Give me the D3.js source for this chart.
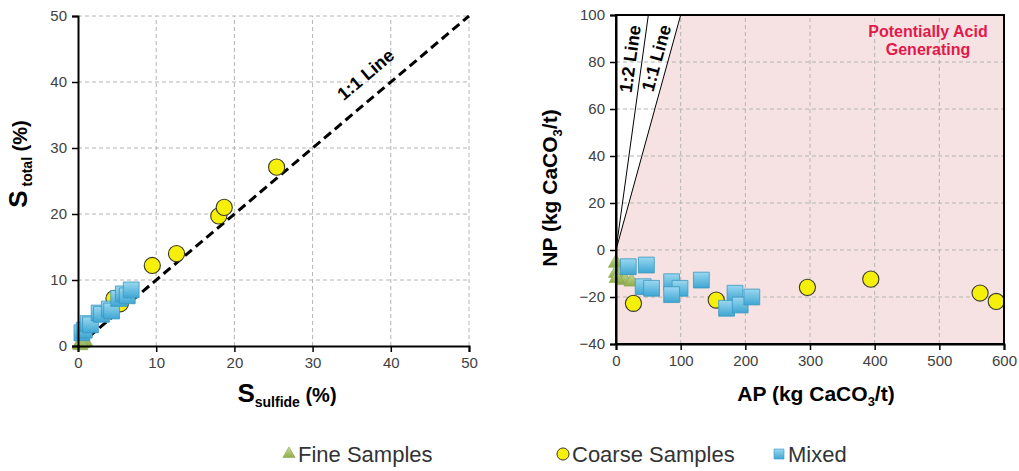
<!DOCTYPE html>
<html>
<head>
<meta charset="utf-8">
<script src="https://cdn.jsdelivr.net/npm/d3@7"></script>
<style>
	body { margin: 0; background: #fff; }
	svg text { font-family: "Liberation Sans", Arial, sans-serif; }
</style>
</head>
<body>
<svg id="chart" width="1019" height="471"></svg>
<script>
'use strict';

// left panel: S_sulfide (%) vs S_total (%)
const fineS = [[0.2, 0.3], [0.5, 0.4], [0.7, 0.6], [0.3, 0.1], [0.9, 0.7], [0.4, 0.5]];
const coarseS = [[4.6, 7.2], [5.4, 6.4], [9.5, 12.2], [12.6, 14.0], [18.0, 19.7], [18.7, 21.0], [25.4, 27.1]];
const mixedS = [[0.5, 2.0], [0.8, 2.4], [1.3, 3.4], [1.6, 3.2], [2.7, 5.0], [3.0, 4.8],
	[4.0, 5.6], [4.3, 5.3], [5.2, 7.2], [5.8, 7.9], [6.3, 7.6], [6.8, 8.5]];

// right panel: AP vs NP (kg CaCO3/t)
const fineNP = [[0, -5.5], [0, -9.8], [6, -11.3], [14, -12.8], [24, -13.5], [1, -12]];
const coarseNP = [[27, -22.7], [155, -21.3], [296, -15.9], [394, -12.4], [563, -18.3], [588, -21.9]];
const mixedNP = [[19, -7.1], [47, -6.4], [42, -15.6], [55, -16.3], [86, -13.5], [99, -16.3],
	[86, -19], [132, -12.8], [184, -18.4], [171, -24.8], [192, -23.4], [210, -20]];

const ticksS = [0, 10, 20, 30, 40, 50];
const ticksAP = [0, 100, 200, 300, 400, 500, 600];
const ticksNP = [-40, -20, 0, 20, 40, 60, 80, 100];
const legendItems = ['Fine Samples', 'Coarse Samples', 'Mixed'];

const svg = d3.select('#chart');

/* gradients for the markers */
const defs = svg.append('defs');
function gradient(id, c1, c2){
	let g = defs.append('linearGradient').attr('id', id)
		.attr('x1', 0).attr('y1', 0).attr('x2', 0).attr('y2', 1);
	g.append('stop').attr('offset', '0%').attr('stop-color', c1);
	g.append('stop').attr('offset', '100%').attr('stop-color', c2);
}
gradient('gSq', '#9ad8f0', '#3ea6d3');
gradient('gTri', '#c8da9c', '#8fae4c');

const styles = {
	fine: { type: d3.symbolTriangle, size: 100, fill: 'url(#gTri)', stroke: '#8aa64a', sw: 0.6 },
	coarse: { type: d3.symbolCircle, size: 205, fill: '#f6ef0a', stroke: '#3a3a2a', sw: 1.1 },
	mixed: { type: d3.symbolSquare, size: 250, fill: 'url(#gSq)', stroke: '#3a97c2', sw: 0.8 }
};

function drawPoints(g, data, x, y, st){
	g.append('g').selectAll('path')
		.data(data)
		.join('path')
			.attr('transform', d => `translate(${x(d[0])},${y(d[1])})`)
			.attr('d', d3.symbol().type(st.type).size(st.size))
			.attr('fill', st.fill)
			.attr('stroke', st.stroke)
			.attr('stroke-width', st.sw);
}

function grid(g, x, y, xt, yt){
	g.append('g').selectAll('line.v')
		.data(xt.slice(1))
		.join('line')
			.attr('x1', d => x(d)).attr('x2', d => x(d))
			.attr('y1', y.range()[0]).attr('y2', y.range()[1])
			.attr('stroke', '#b4b4b4').attr('stroke-dasharray', '4,3');
	g.append('g').selectAll('line.h')
		.data(yt.slice(1))
		.join('line')
			.attr('y1', d => y(d)).attr('y2', d => y(d))
			.attr('x1', x.range()[0]).attr('x2', x.range()[1])
			.attr('stroke', '#b4b4b4').attr('stroke-dasharray', '4,3');
}

function axes(g, x, y, xt, yt){
	let ax = g.append('g')
		.attr('transform', `translate(0,${y.range()[0]})`)
		.call(d3.axisBottom(x).tickValues(xt).tickSize(6).tickPadding(5));
	let ay = g.append('g')
		.attr('transform', `translate(${x.range()[0]},0)`)
		.call(d3.axisLeft(y).tickValues(yt).tickSize(6).tickPadding(5));
	[ax, ay].forEach(a => {
		a.select('.domain').attr('stroke', '#000').attr('stroke-width', 2);
		a.selectAll('.tick line').attr('stroke', '#000').attr('stroke-width', 1.5);
		a.selectAll('.tick text')
			.attr('fill', '#404040')
			.style('font-size', '15px')
			.style('font-family', '"Liberation Sans", Arial, sans-serif');
	});
}

/** left panel */
const xL = d3.scaleLinear().domain([0, 50]).range([78, 469]);
const yL = d3.scaleLinear().domain([0, 50]).range([346, 16]);
const gL = svg.append('g');
grid(gL, xL, yL, ticksS, ticksS);

gL.append('line')
	.attr('x1', xL(0)).attr('y1', yL(0))
	.attr('x2', xL(50)).attr('y2', yL(50))
	.attr('stroke', '#000').attr('stroke-width', 3)
	.attr('stroke-dasharray', '9,5');

gL.append('text')
	.attr('transform', `translate(${xL(37.3)},${yL(40.4)}) rotate(-40.2)`)
	.attr('text-anchor', 'middle')
	.style('font-size', '18px').style('font-weight', 'bold')
	.text('1:1 Line');

drawPoints(gL, coarseS, xL, yL, styles.coarse);
drawPoints(gL, fineS, xL, yL, styles.fine);
drawPoints(gL, mixedS, xL, yL, styles.mixed);
axes(gL, xL, yL, ticksS, ticksS);

// axis titles with subscripts
let tx = gL.append('text')
	.attr('x', 287).attr('y', 402)
	.attr('text-anchor', 'middle')
	.style('font-weight', 'bold');
tx.append('tspan').style('font-size', '26px').text('S');
tx.append('tspan').style('font-size', '14px').attr('dy', 5).text('sulfide');
tx.append('tspan').style('font-size', '20px').attr('dy', -5).text(' (%)');

let ty = gL.append('text')
	.attr('transform', 'translate(27,164) rotate(-90)')
	.attr('text-anchor', 'middle')
	.style('font-weight', 'bold');
ty.append('tspan').style('font-size', '26px').text('S');
ty.append('tspan').style('font-size', '14px').attr('dy', 5).text(' total');
ty.append('tspan').style('font-size', '20px').attr('dy', -5).text(' (%)');

/** right panel */
const xR = d3.scaleLinear().domain([0, 600]).range([616, 1004]);
const yR = d3.scaleLinear().domain([-40, 100]).range([344, 15]);
const gR = svg.append('g');

// region where NP < AP
const acidArea = [[0, -40], [0, 0], [100, 100], [600, 100], [600, -40]];
gR.append('path')
	.attr('d', d3.line().x(d => xR(d[0])).y(d => yR(d[1]))(acidArea) + 'Z')
	.attr('fill', '#f6e2e2');

grid(gR, xR, yR, ticksAP, ticksNP);

// ratio lines NP = k * AP
const ratioLines = [{ k: 1, label: '1:1 Line' }, { k: 2, label: '1:2 Line' }];
ratioLines.forEach(r => {
	gR.append('line')
		.attr('x1', xR(0)).attr('y1', yR(0))
		.attr('x2', xR(100 / r.k)).attr('y2', yR(100))
		.attr('stroke', '#000').attr('stroke-width', 1);
	let ang = Math.atan2(yR(0) - yR(100), xR(100 / r.k) - xR(0)) * 180 / Math.PI;
	gR.append('text')
		.attr('transform', `translate(${xR(81 / r.k) - 6},${yR(81)}) rotate(${-ang})`)
		.attr('text-anchor', 'middle')
		.style('font-size', '18px').style('font-weight', 'bold')
		.text(r.label);
});

let red = gR.append('text')
	.attr('text-anchor', 'middle')
	.attr('fill', '#e3184b')
	.style('font-size', '16px').style('font-weight', 'bold');
red.append('tspan').attr('x', 928).attr('y', 37).text('Potentially Acid');
red.append('tspan').attr('x', 928).attr('y', 55).text('Generating');

drawPoints(gR, coarseNP, xR, yR, styles.coarse);
drawPoints(gR, fineNP, xR, yR, styles.fine);
drawPoints(gR, mixedNP, xR, yR, styles.mixed);
axes(gR, xR, yR, ticksAP, ticksNP);

// box around the right panel
gR.append('rect')
	.attr('x', xR(0)).attr('y', yR(100))
	.attr('width', xR(600) - xR(0)).attr('height', yR(-40) - yR(100))
	.attr('fill', 'none').attr('stroke', '#000').attr('stroke-width', 2);

let rx = gR.append('text')
	.attr('x', 816).attr('y', 401)
	.attr('text-anchor', 'middle')
	.style('font-weight', 'bold').style('font-size', '21px');
rx.append('tspan').text('AP (kg CaCO');
rx.append('tspan').style('font-size', '13px').attr('dy', 5).text('3');
rx.append('tspan').attr('dy', -5).text('/t)');

let ry = gR.append('text')
	.attr('transform', 'translate(557,188) rotate(-90)')
	.attr('text-anchor', 'middle')
	.style('font-weight', 'bold').style('font-size', '21px');
ry.append('tspan').text('NP (kg CaCO');
ry.append('tspan').style('font-size', '13px').attr('dy', 5).text('3');
ry.append('tspan').attr('dy', -5).text('/t)');

/** legend */
const legX = [289, 563, 779];
const legStyles = [
	{ type: d3.symbolTriangle, size: 65, fill: 'url(#gTri)', stroke: '#8aa64a', sw: 0.6 },
	{ type: d3.symbolCircle, size: 115, fill: '#f6ef0a', stroke: '#3a3a2a', sw: 1 },
	{ type: d3.symbolSquare, size: 100, fill: 'url(#gSq)', stroke: '#3a97c2', sw: 0.6 }
];
const leg = svg.append('g').selectAll('g')
	.data(legendItems)
	.join('g')
		.attr('transform', (d, i) => `translate(${legX[i]},454)`);
leg.append('path')
	.attr('d', (d, i) => d3.symbol().type(legStyles[i].type).size(legStyles[i].size)())
	.attr('fill', (d, i) => legStyles[i].fill)
	.attr('stroke', (d, i) => legStyles[i].stroke)
	.attr('stroke-width', (d, i) => legStyles[i].sw);
leg.append('text')
	.attr('x', 9).attr('y', 8)
	.attr('fill', '#333')
	.style('font-size', '22px')
	.text(d => d);
</script>
</body>
</html>
